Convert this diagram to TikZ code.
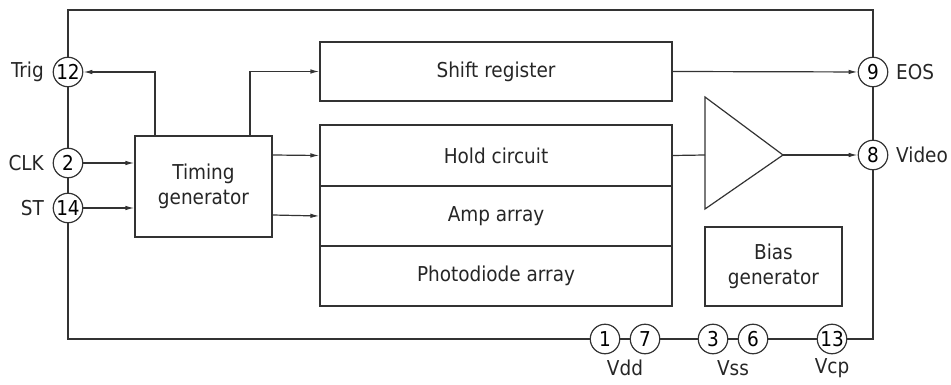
\documentclass[tikz,border=0pt]{standalone}
\usepackage{fontspec}
\setmainfont{DejaVu Sans Condensed}
\usetikzlibrary{arrows.meta}
\begin{document}
\begin{tikzpicture}[x=1pt,y=-1pt,
  ln/.style={line width=1.2pt,draw=black!80},
  pin/.style={ln,draw,fill=white,circle,minimum size=29.5pt,inner sep=0pt,font=\fontsize{20.5}{20.5}\selectfont},
  lbl/.style={font=\fontsize{20.5}{20.5}\selectfont,inner sep=0pt,text=black!85},
  txt/.style={font=\fontsize{20.5}{25}\selectfont,align=center,text=black!85},
  arr/.style={ln,-{Latex[length=9pt,width=4.5pt]}}]
\useasboundingbox (0,0) rectangle (951,385);
% frame
\coordinate (tl) at (68,10);
\coordinate (tr) at (873,10);
\coordinate (bl) at (68,339);
\coordinate (br) at (873,339);
\draw[ln] (tl) -- (tr) -- (br) -- (bl) -- cycle;
% blocks
\node[ln,draw,fill=white,minimum width=137pt,minimum height=101pt,txt] (tg) at (203.5,186.5) {Timing\\generator};
\node[ln,draw,minimum width=352pt,minimum height=59pt,txt] (sr) at (496,71.5) {Shift register};
\node[ln,draw,minimum width=352pt,minimum height=61pt,txt] (hc) at (496,155.5) {Hold circuit};
\node[ln,draw,minimum width=352pt,minimum height=60pt,txt] (aa) at (496,216) {Amp array};
\node[ln,draw,minimum width=352pt,minimum height=60pt,txt] (pd) at (496,276) {Photodiode array};
\node[ln,draw,minimum width=137pt,minimum height=79pt,txt] (bg) at (773.5,266.5) {Bias\\generator};
% amplifier
\coordinate (ampin) at (705,155);
\coordinate (ampout) at (783,155);
\draw[ln] (705,97) -- (ampout) -- (705,209) -- cycle;
% pins
\node[pin] (p12) at (68,72) {12};
\node[pin] (p2) at (68,163) {2};
\node[pin] (p14) at (68,208) {14};
\node[pin] (p9) at (873,72) {9};
\node[pin] (p8) at (873,155) {8};
\node[pin] (p1) at (605,339) {1};
\node[pin] (p7) at (645,339) {7};
\node[pin] (p3) at (713,339) {3};
\node[pin] (p6) at (753,339) {6};
\node[pin] (p13) at (832,339) {13};
% pin labels
\node[lbl,anchor=east] at (44,72) {Trig};
\node[lbl,anchor=east] at (44,163) {CLK};
\node[lbl,anchor=east] at (44,208) {ST};
\node[lbl,anchor=west] at (896,72) {EOS};
\node[lbl,anchor=west] at (896,155) {Video};
\node[lbl] at (625,368) {Vdd};
\node[lbl] at (733,368) {Vss};
\node[lbl] at (832,368) {Vcp};
% connectors
\draw[arr] (tg.north -| 155,0) |- (p12);
\draw[arr] (tg.north -| 250,0) |- (sr.west);
\draw[arr] (p2) -- (p2 -| tg.west);
\draw[arr] (p14) -- (p14 -| tg.west);
\draw[arr] (tg.east |- 0,155) -- (hc.west);
\draw[arr] (tg.east |- 0,215) -- (aa.west);
\draw[arr] (sr.east) -- (p9);
\draw[ln] (hc.east) -- (ampin);
\draw[arr] (ampout) -- (p8);
\end{tikzpicture}
\end{document}
